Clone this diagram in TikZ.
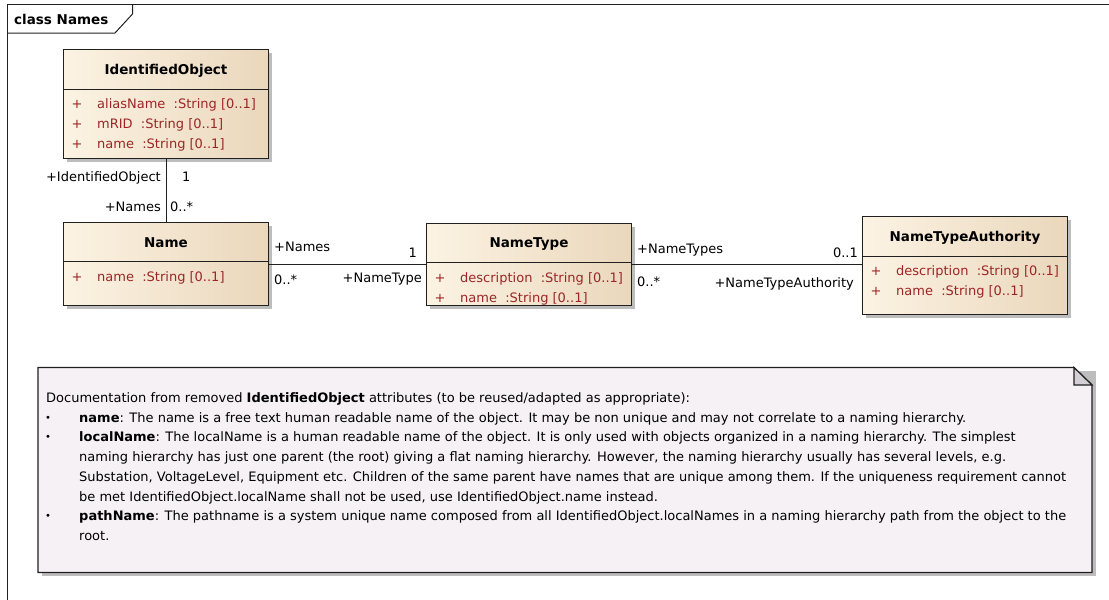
\documentclass[tikz,border=0pt]{standalone}
\usepackage{fontspec}
\setmainfont{DejaVu Sans}
\definecolor{boxL}{HTML}{FCF3E3}
\definecolor{boxR}{HTML}{EAD7BC}
\definecolor{attr}{HTML}{9C2626}
\definecolor{notebg}{HTML}{F6F1F5}
\definecolor{foldc}{HTML}{D4CFD4}
\definecolor{shad}{HTML}{BDBDBD}
\definecolor{edge}{HTML}{202020}
\newcommand\myfont{\fontsize{13}{15}\selectfont}
\newcommand\hdfont{\fontsize{13.5}{15}\selectfont\bfseries}
\tikzset{
  classbox/.style={draw=edge, line width=1.2pt, left color=boxL, right color=boxR, anchor=north west, inner sep=0pt, rectangle},
  sep/.style={draw=edge, line width=1pt},
  hdr/.style={font=\hdfont, inner sep=0pt, anchor=center},
  plus/.style={font=\myfont, text=attr, inner sep=0pt, anchor=base},
  attrtxt/.style={font=\myfont, text=attr, inner sep=0pt, anchor=base west},
  lblE/.style={font=\myfont, inner sep=0pt, anchor=base east},
  lblW/.style={font=\myfont, inner sep=0pt, anchor=base west},
  notetxt/.style={font=\myfont, inner sep=0pt, anchor=base west},
  bullet/.style={font=\fontsize{10}{12}\selectfont, inner sep=0pt, anchor=base west},
  conn/.style={draw=edge, line width=1pt},
}
\begin{document}
\begin{tikzpicture}[x=1pt,y=-1pt]
\useasboundingbox (0,0) rectangle (1109,600);
% frame
\draw[draw=edge, line width=1pt] (7,601) -- (7,4) -- (1110,4);
\draw[draw=edge, line width=1pt] (7,33) -- (115,33) -- (132.5,14) -- (132.5,4);
\node[font=\hdfont, inner sep=0pt, anchor=base west] (title) at (14,24) {class Names};

% shadows
\fill[shad] (67,53) rectangle (272,162);
\fill[shad] (67,226) rectangle (272,309);
\fill[shad] (430,227) rectangle (635,309);
\fill[shad] (866,220) rectangle (1071,318);
\fill[shad] (42,371) rectangle (1096,576);

% IdentifiedObject
\node[classbox, minimum width=205pt, minimum height=109pt] (io) at (63,49) {};
\draw[sep] (63,89) -- (268,89);
\node[hdr] (ioh) at (166,71) {IdentifiedObject};
\node[plus] (iop1) at (77,108) {+};
\node[attrtxt] (ioa1) at (97,108) {aliasName~ :String [0..1]};
\node[plus] (iop2) at (77,128) {+};
\node[attrtxt] (ioa2) at (97,128) {mRID~ :String [0..1]};
\node[plus] (iop3) at (77,148) {+};
\node[attrtxt] (ioa3) at (97,148) {name~ :String [0..1]};

% Name
\node[classbox, minimum width=205pt, minimum height=83pt] (nm) at (63,222) {};
\draw[sep] (63,261) -- (268,261);
\node[hdr] (nmh) at (166,243) {Name};
\node[plus] (nmp1) at (77,281) {+};
\node[attrtxt] (nma1) at (97,281) {name~ :String [0..1]};

% NameType
\node[classbox, minimum width=205pt, minimum height=82pt] (nt) at (426,223) {};
\draw[sep] (426,262) -- (631,262);
\node[hdr] (nth) at (529,244) {NameType};
\node[plus] (ntp1) at (440,282) {+};
\node[attrtxt] (nta1) at (460,282) {description~ :String [0..1]};
\node[plus] (ntp2) at (440,302) {+};
\node[attrtxt] (nta2) at (460,302) {name~ :String [0..1]};

% NameTypeAuthority
\node[classbox, minimum width=205pt, minimum height=98pt] (nta) at (862,216) {};
\draw[sep] (862,256) -- (1067,256);
\node[hdr] (ntah) at (965,238) {NameTypeAuthority};
\node[plus] (ntap1) at (876,275) {+};
\node[attrtxt] (ntaa1) at (896,275) {description~ :String [0..1]};
\node[plus] (ntap2) at (876,295) {+};
\node[attrtxt] (ntaa2) at (896,295) {name~ :String [0..1]};

% connectors
\draw[conn] (io.south) -- (nm.north);
\draw[conn] (nm.east) -- (nm.east -| nt.west);
\draw[conn] (nt.east) -- (nt.east -| nta.west);

% connector labels
\node[lblE] (l1) at (161,181) {+IdentifiedObject};
\node[lblW] (l2) at (182,181) {1};
\node[lblE] (l3) at (161,211) {+Names};
\node[lblW] (l4) at (170,211) {0..*};
\node[lblW] (l5) at (274,251) {+Names};
\node[lblE] (l6) at (417,257) {1};
\node[lblW] (l7) at (274,284) {0..*};
\node[lblE] (l8) at (422,282) {+NameType};
\node[lblW] (l9) at (637,253) {+NameTypes};
\node[lblE] (l10) at (858,257) {0..1};
\node[lblW] (l11) at (637,286) {0..*};
\node[lblE] (l12) at (854,287) {+NameTypeAuthority};

% note
\path[fill=notebg, draw=edge, line width=1.2pt] (38,367.5) -- (1074,367.5) -- (1092,385) -- (1092,572.5) -- (38,572.5) -- cycle;
\path[fill=foldc, draw=edge, line width=1.2pt] (1074,367.5) -- (1074,385) -- (1092,385) -- cycle;
\node[notetxt] (n1) at (46,402.5) {Documentation from removed \textbf{IdentifiedObject} attributes (to be reused/adapted as appropriate):};
\node[bullet] (b1) at (45,421) {•};
\node[notetxt] (n2) at (79,422.2) {\textbf{name}: The name is a free text human readable name of the object. It may be non unique and may not correlate to a naming hierarchy.};
\node[bullet] (b2) at (45,440.7) {•};
\node[notetxt] (n3) at (79,441.9) {\textbf{localName}: The localName is a human readable name of the object. It is only used with objects organized in a naming hierarchy. The simplest};
\node[notetxt] (n4) at (79,461.6) {naming hierarchy has just one parent (the root) giving a flat naming hierarchy. However, the naming hierarchy usually has several levels, e.g.};
\node[notetxt] (n5) at (79,481.3) {Substation, VoltageLevel, Equipment etc. Children of the same parent have names that are unique among them. If the uniqueness requirement cannot};
\node[notetxt] (n6) at (79,501) {be met IdentifiedObject.localName shall not be used, use IdentifiedObject.name instead.};
\node[bullet] (b3) at (45,519.5) {•};
\node[notetxt] (n7) at (79,520.7) {\textbf{pathName}: The pathname is a system unique name composed from all IdentifiedObject.localNames in a naming hierarchy path from the object to the};
\node[notetxt] (n8) at (79,540.4) {root.};
\end{tikzpicture}
\end{document}
